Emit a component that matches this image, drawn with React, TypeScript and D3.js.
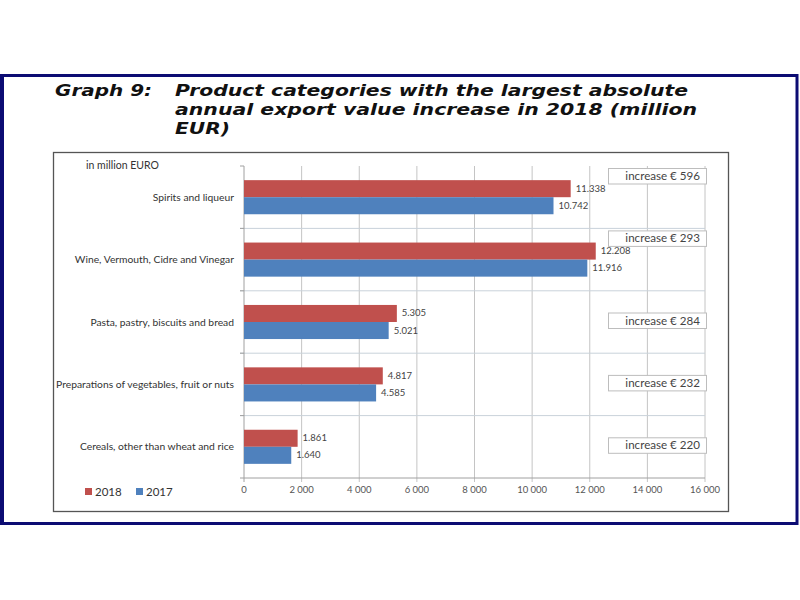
import React from "react";
import * as d3 from "d3";

const categories = [
  "Spirits and liqueur",
  "Wine, Vermouth, Cidre and Vinegar",
  "Pasta, pastry, biscuits and bread",
  "Preparations of vegetables, fruit or nuts",
  "Cereals, other than wheat and rice",
];
const values2018 = [11338, 12208, 5305, 4817, 1861];
const values2017 = [10742, 11916, 5021, 4585, 1640];
const increases = [596, 293, 284, 232, 220];
const increaseAnchor = ["top", "top", "middle", "middle", "middle"];
const seriesNames = ["2018", "2017"];
const xTicks = [0, 2000, 4000, 6000, 8000, 10000, 12000, 14000, 16000];
const titleLines = [
  "Graph 9:",
  "Product categories with the largest absolute",
  "annual export value increase in 2018 (million",
  "EUR)",
];

const RED = "#c0504d";
const BLUE = "#4f81bd";
const FONT = "Lato, 'Open Sans', sans-serif";

export default function App() {
  const x = d3.scaleLinear().domain([0, 16000]).range([244, 705]);
  const y = d3.scaleBand<string>().domain(categories).range([166, 478]);
  const inner = d3
    .scaleBand<string>()
    .domain(seriesNames)
    .range([0, y.bandwidth()])
    .paddingInner(0)
    .paddingOuter(0.83);
  const fmtThousand = (v: number) => d3.format(",")(v).replace(/,/g, ".");
  const bounds = categories.map((c) => y(c)!).concat([y.range()[1]]);

  return (
    <svg
      width={800}
      height={600}
      style={{ position: "absolute", left: 0, top: 0, background: "#fff" }}
    >
      <rect x={0} y={0} width={800} height={600} fill="#fff" />
      {/* outer navy frame */}
      <rect x={1.5} y={75.5} width={795.5} height={448} fill="none" stroke="#0c0c73" strokeWidth={3} />
      <rect x={0} y={75} width={4} height={450} fill="#0c0c73" />

      {/* title */}
      <g fontFamily="'DejaVu Sans', Verdana, sans-serif" fontWeight="bold" fontStyle="italic" fontSize={16} fill="#111">
        <text x={55} y={96} textLength={97} lengthAdjust="spacingAndGlyphs">{titleLines[0]}</text>
        <text x={175} y={96} textLength={513} lengthAdjust="spacingAndGlyphs">{titleLines[1]}</text>
        <text x={175} y={115} textLength={522} lengthAdjust="spacingAndGlyphs">{titleLines[2]}</text>
        <text x={175} y={134} textLength={55} lengthAdjust="spacingAndGlyphs">{titleLines[3]}</text>
      </g>

      {/* chart box */}
      <rect x={53.5} y={152.5} width={675} height={359} fill="#fff" stroke="#555" strokeWidth={1.3} />

      <text x={86} y={169} fontFamily={FONT} fontSize={10.5} fill="#333">in million EURO</text>

      {/* vertical gridlines */}
      {xTicks.slice(1).map((t) => (
        <line key={"g" + t} x1={x(t)} x2={x(t)} y1={166} y2={482} stroke="#c4c4c4" strokeWidth={1} />
      ))}
      {/* horizontal separators */}
      {bounds.slice(1, -1).map((b, i) => (
        <line key={"h" + i} x1={240} x2={705} y1={b} y2={b} stroke="#c9d2da" strokeWidth={1} />
      ))}
      {/* category ticks */}
      {bounds.map((b, i) => (
        <line key={"ct" + i} x1={240} x2={244} y1={b} y2={b} stroke="#a0a0a0" strokeWidth={1} />
      ))}
      {/* axes */}
      <line x1={x(0)} x2={x(0)} y1={166} y2={482} stroke="#a0a0a0" strokeWidth={1} />
      <line x1={x(0)} x2={x(16000)} y1={478} y2={478} stroke="#a0a0a0" strokeWidth={1} />

      {/* increase annotations */}
      {categories.map((c, i) => {
        const y0 = y(c)!;
        const top = increaseAnchor[i] === "top" ? y0 + 2 : y0 + y.bandwidth() / 2 - 9.5;
        return (
          <g key={"inc" + i}>
            <rect x={608.5} y={top + 0.5} width={98} height={15.5} fill="#fff" stroke="#bdbdbd" strokeWidth={1} />
            <text x={700} y={top + 12} textAnchor="end" fontFamily={FONT} fontSize={11.6} fill="#444">
              {"increase \u20ac " + increases[i]}
            </text>
          </g>
        );
      })}

      {/* bars */}
      {categories.map((c, i) => {
        const y0 = y(c)!;
        const yr = y0 + inner("2018")!;
        const yb = y0 + inner("2017")!;
        const bw = inner.bandwidth();
        return (
          <g key={c}>
            <rect x={x(0)} y={yr} width={x(values2018[i]) - x(0)} height={bw} fill={RED} />
            <rect x={x(0)} y={yb} width={x(values2017[i]) - x(0)} height={bw} fill={BLUE} />
            <text x={x(values2018[i]) + 5} y={yr + bw / 2 + 3} fontFamily={FONT} fontSize={9.5} fill="#444">
              {fmtThousand(values2018[i])}
            </text>
            <text x={x(values2017[i]) + 5} y={yb + bw / 2 + 3} fontFamily={FONT} fontSize={9.5} fill="#444">
              {fmtThousand(values2017[i])}
            </text>
            <text
              x={234}
              y={y0 + y.bandwidth() / 2 + 3.5}
              textAnchor="end"
              fontFamily={FONT}
              fontSize={10.3}
              fill="#333"
            >
              {c}
            </text>
          </g>
        );
      })}

      {/* x tick labels */}
      {xTicks.map((t) => (
        <text key={"t" + t} x={x(t)} y={493} textAnchor="middle" fontFamily={FONT} fontSize={9.5} fill="#555">
          {d3.format(",")(t).replace(/,/g, " ")}
        </text>
      ))}

      {/* legend */}
      <rect x={85} y={488} width={7} height={7} fill={RED} />
      <text x={95} y={495.5} fontFamily={FONT} fontSize={11.5} fill="#333">{seriesNames[0]}</text>
      <rect x={136} y={488} width={7} height={7} fill={BLUE} />
      <text x={146} y={495.5} fontFamily={FONT} fontSize={11.5} fill="#333">{seriesNames[1]}</text>
    </svg>
  );
}
